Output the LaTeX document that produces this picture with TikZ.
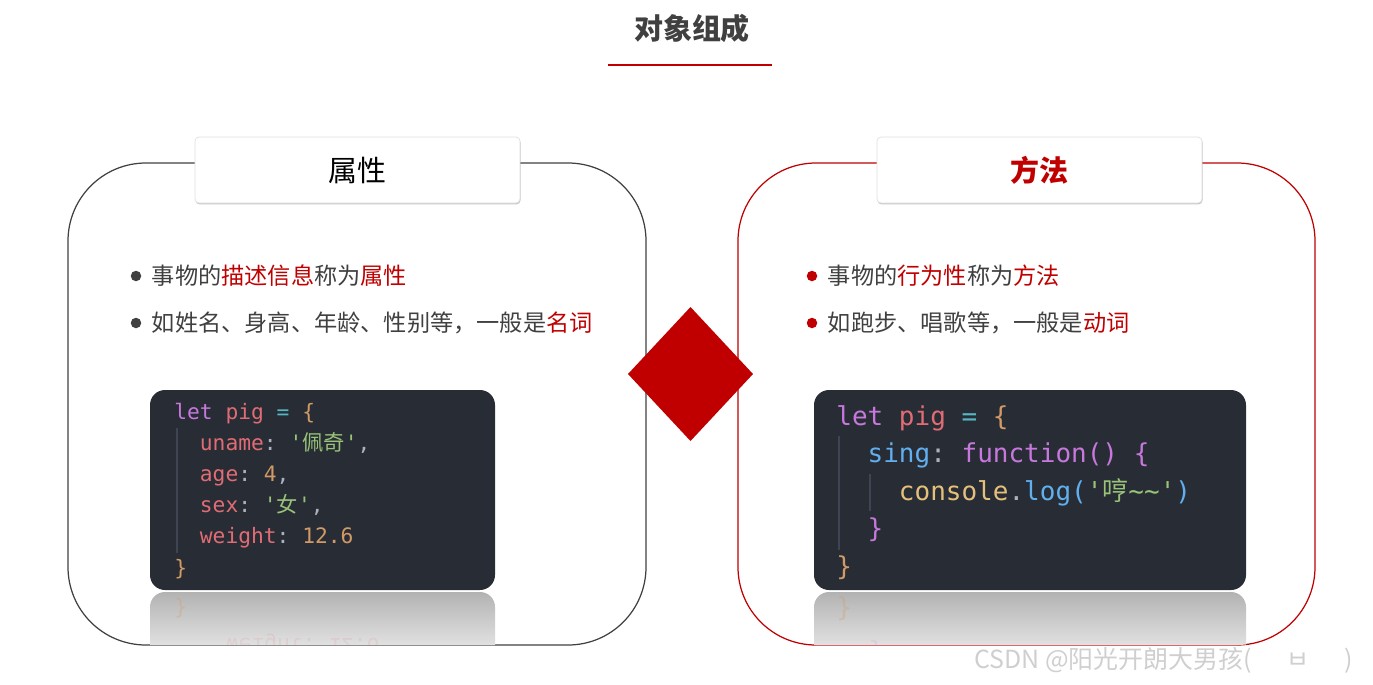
\documentclass[tikz,border=0pt]{standalone}
\usepackage{fontspec}
\setmainfont{Noto Sans CJK SC}
\setmonofont{DejaVu Sans Mono}
\newfontfamily\cjk{Noto Sans CJK SC}
\usetikzlibrary{positioning,shadows}
\definecolor{Red}{HTML}{C00000}
\definecolor{Ink}{HTML}{404040}
\definecolor{CodeBg}{HTML}{282C34}
\definecolor{Guide}{HTML}{3E4451}
\definecolor{Kw}{HTML}{C678DD}
\definecolor{Var}{HTML}{E06C75}
\definecolor{Op}{HTML}{56B6C2}
\definecolor{Num}{HTML}{D19A66}
\definecolor{Str}{HTML}{98C379}
\definecolor{Fn}{HTML}{61AFEF}
\definecolor{Obj}{HTML}{E5C07B}
\definecolor{Pun}{HTML}{ABB2BF}
\newcommand\cKw[1]{\textcolor{Kw}{#1}}
\newcommand\cVar[1]{\textcolor{Var}{#1}}
\newcommand\cOp[1]{\textcolor{Op}{#1}}
\newcommand\cNum[1]{\textcolor{Num}{#1}}
\newcommand\cStr[1]{\textcolor{Str}{#1}}
\newcommand\cFn[1]{\textcolor{Fn}{#1}}
\newcommand\cObj[1]{\textcolor{Obj}{#1}}
\newcommand\cPun[1]{\textcolor{Pun}{#1}}
\begin{document}
\begin{tikzpicture}[x=0.02cm,y=-0.02cm,
  dot/.style={circle,fill=#1,inner sep=0pt,minimum size=0.21cm},
  item/.style={inner sep=0pt,text=Ink,font=\fontsize{13.2}{16}\selectfont},
  tab/.style={fill=white,draw=gray!25,rounded corners=0.08cm,minimum width=6.5cm,minimum height=1.32cm,
    drop shadow={shadow xshift=0.3pt,shadow yshift=-0.8pt,opacity=.45}},
  code/.style={anchor=base west,inner sep=0pt,font=\ttfamily\fontsize{12.1}{14}\selectfont},
  bigcode/.style={code,font=\ttfamily\fontsize{14.8}{17}\selectfont}]
\useasboundingbox (0,0) rectangle (1373,684);
% title
\node[font=\bfseries\fontsize{16.5}{20}\selectfont,text=Ink] (title) at (692,28) {对象组成};
\draw[Red,line width=1.1pt] (608,65) -- (772,65);
% the two frames
\draw[Ink,line width=0.7pt,rounded corners=1.56cm] (68,163) rectangle (646,645);
\draw[Red,line width=0.7pt,rounded corners=1.56cm] (738,163) rectangle (1315,645);
% code boxes with their reflections
\fill[CodeBg,rounded corners=0.3cm] (150,390) rectangle (495,590);
\fill[CodeBg,rounded corners=0.3cm] (814,390) rectangle (1246,590);
\begin{scope}
\clip[rounded corners=1.56cm] (68,163) rectangle (646,645);
\shade[top color=gray!60,bottom color=white,rounded corners=0.3cm] (150,592) rectangle (495,680);
\node[code,text=Num,opacity=.3] (r1) at (174,614) {\}};
\node[code,text=Var,opacity=.12,yscale=-1] (r2) at (200,638) {\ \ weight: 12.6};
\end{scope}
\begin{scope}
\clip[rounded corners=1.56cm] (738,163) rectangle (1315,645);
\shade[top color=gray!60,bottom color=white,rounded corners=0.3cm] (814,592) rectangle (1246,680);
\node[bigcode,text=Num,opacity=.3] (r3) at (836,616) {\}};
\node[bigcode,text=Kw,opacity=.15,yscale=-1] (r4) at (868,644) {\}};
\end{scope}
\draw[Guide,line width=0.6pt] (177,428) -- (177,553);
\draw[Guide,line width=0.6pt] (839,436) -- (839,550);
\draw[Guide,line width=0.6pt] (870,474) -- (870,511);
% left code
\foreach \i/\txt in {0/{\cKw{let} \cVar{pig} \cOp{=} \cNum{\{}},
  1/{\ \ \cVar{uname}\cPun{:} \cStr{'{\cjk 佩奇}'}\cPun{,}},
  2/{\ \ \cVar{age}\cPun{:} \cNum{4}\cPun{,}},
  3/{\ \ \cVar{sex}\cPun{:} \cStr{'{\cjk 女}'}\cPun{,}},
  4/{\ \ \cVar{weight}\cPun{:} \cNum{12.6}},
  5/{\cNum{\}}}}{\node[code] (lc\i) at (174,419+31.2*\i) {\txt};}
% right code
\foreach \i/\txt in {0/{\cKw{let} \cVar{pig} \cOp{=} \cNum{\{}},
  1/{\ \ \cFn{sing}\cPun{:} \cKw{function() \{}},
  2/{\ \ \ \ \cObj{console}\cPun{.}\cFn{log}\cFn{(}\cStr{'{\cjk 哼}\textasciitilde\textasciitilde'}\cFn{)}},
  3/{\ \ \cKw{\}}},
  4/{\cNum{\}}}}{\node[bigcode] (rc\i) at (836,425+37.5*\i) {\txt};}
% tabs
\node[tab,font=\fontsize{16.5}{20}\selectfont] (attr) at (357.5,170) {属性};
\node[tab,font=\bfseries\fontsize{16.5}{20}\selectfont,text=Red] (meth) at (1039.5,170) {方法};
% diamond
\fill[Red] (628,374) -- (690.5,307) -- (753,374) -- (690.5,441) -- cycle;
% bullets
\node[dot=Ink] (p1) at (136,276) {};
\node[item,right=0.2cm of p1] (t1) {事物的\textcolor{Red}{描述信息}称为\textcolor{Red}{属性}};
\node[dot=Ink] (p2) at (136,323) {};
\node[item,right=0.2cm of p2] (t2) {如姓名、身高、年龄、性别等，一般是\textcolor{Red}{名词}};
\node[dot=Red] (p3) at (812,276) {};
\node[item,right=0.2cm of p3] (t3) {事物的\textcolor{Red}{行为性}称为\textcolor{Red}{方法}};
\node[dot=Red] (p4) at (812,323) {};
\node[item,right=0.2cm of p4] (t4) {如跑步、唱歌等，一般是\textcolor{Red}{动词}};
% watermark
\node[anchor=west,text=gray!38,font=\fontsize{14.2}{16}\selectfont] (wm) at (968,660) {CSDN @阳光开朗大男孩(\hspace{1.4em}ㅂ\hspace{1.4em})};
\end{tikzpicture}
\end{document}
